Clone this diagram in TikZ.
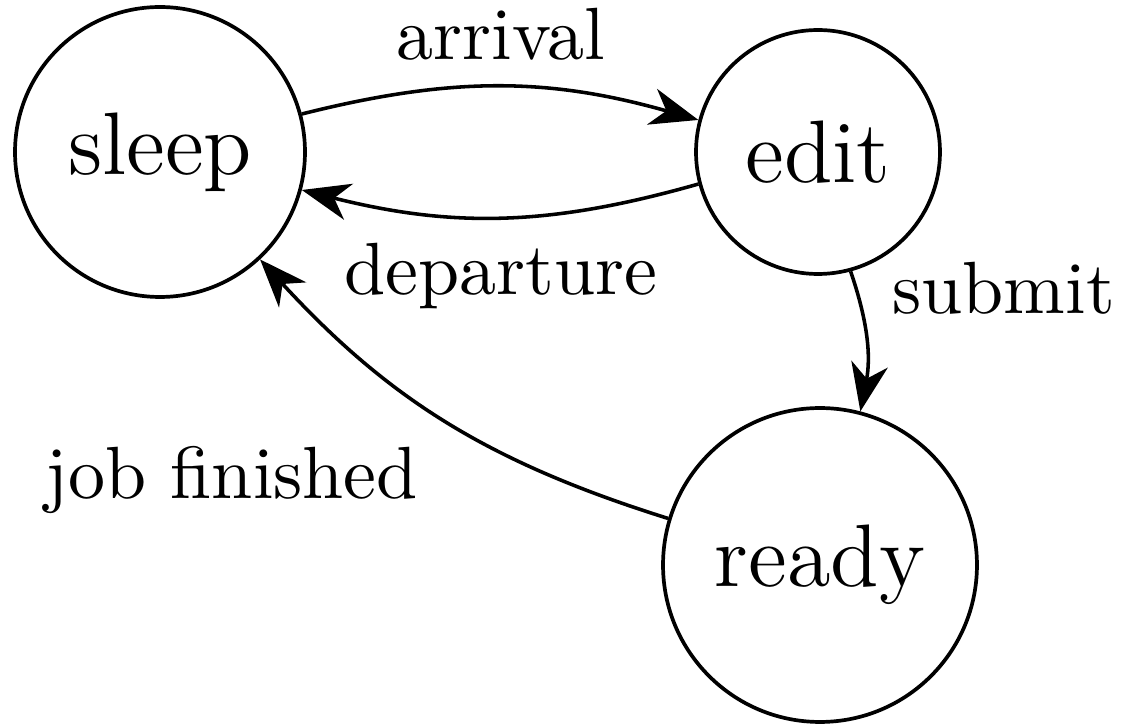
\documentclass[tikz,border=0pt]{standalone}
\usetikzlibrary{arrows.meta}
\begin{document}
\begin{tikzpicture}[x=0.13514pt,y=-0.13514pt,
  state/.style={draw,circle,inner sep=0pt,font=\large,line width=0.5pt},
  tr/.style={-{Stealth[length=6.5pt,width=5pt,inset=2pt]},line width=0.48pt,bend left=15}]
\useasboundingbox (0,0) rectangle (1122,724);
\node[state,minimum size=39.19pt] (sleep) at (160,152) {sleep};
\node[state,minimum size=32.97pt] (edit) at (818,152) {edit};
\node[state,minimum size=42.43pt] (ready) at (820,565) {ready};
\draw[tr] (sleep) to node[above] (la) {arrival} (edit);
\draw[tr] (edit) to node[below] (ld) {departure} (sleep);
\draw[tr] (edit) to node[above right] (ls) {submit} (ready);
\draw[tr] (ready) to node[below left] (lj) {job finished} (sleep);
\end{tikzpicture}
\end{document}
